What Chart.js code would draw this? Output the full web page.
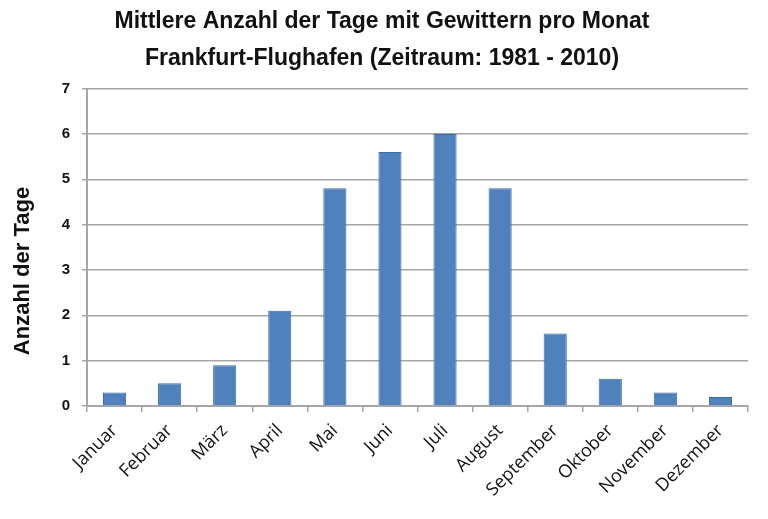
<!DOCTYPE html>
<html>
<head>
<meta charset="utf-8">
<script src="https://cdn.jsdelivr.net/npm/chart.js@4/dist/chart.umd.min.js"></script>
<style>
  html, body { margin: 0; padding: 0; background: #fff; }
  #wrap { width: 768px; height: 519px; }
</style>
</head>
<body>
<div id="wrap"><canvas id="myChart" width="768" height="519"></canvas></div>
<script>
const months = ['Januar', 'Februar', 'März', 'April', 'Mai', 'Juni', 'Juli',
                'August', 'September', 'Oktober', 'November', 'Dezember'];
const stormDays = [0.3, 0.5, 0.9, 2.1, 4.8, 5.6, 6.0, 4.8, 1.6, 0.6, 0.3, 0.2];
const titleLines = ['Mittlere Anzahl der Tage mit Gewittern pro Monat',
                    'Frankfurt-Flughafen (Zeitraum: 1981 - 2010)'];
const yTitle = 'Anzahl der Tage';

const gridGrey = '#a6a6a6';
const arial = 'Liberation Sans, Arial, sans-serif';

// y-axis title drawn a bit below the chart-area centre, like the original
const yTitlePlugin = {
    id: 'yTitle',
    afterDraw(chart) {
        const c = chart.ctx;
        c.save();
        c.translate(23, 271);
        c.rotate(-Math.PI / 2);
        c.font = 'bold 22px ' + arial;
        c.fillStyle = '#111';
        c.textAlign = 'center';
        c.textBaseline = 'middle';
        c.fillText(yTitle, 0, 0);
        c.restore();
    }
};

const chartSettings = {
    type: 'bar',
    data: {
        labels: months,
        datasets: [{
            data: stormDays,
            backgroundColor: '#4f81bd',
            borderColor: '#3d6ca6',
            borderWidth: 1,
            barPercentage: 0.42,
            categoryPercentage: 1.0
        }]
    },
    options: {
        responsive: false,
        animation: false,
        layout: { padding: { left: 16, right: 20, top: 0, bottom: 0 } },
        plugins: {
            legend: { display: false },
            tooltip: { enabled: false },
            title: {
                display: true,
                text: titleLines,
                color: '#111',
                font: { family: arial, size: 23, weight: 'bold', lineHeight: 1.6 },
                padding: { top: 3, bottom: 12 }
            }
        },
        scales: {
            y: {
                min: 0,
                max: 7,
                ticks: {
                    stepSize: 1,
                    color: '#111',
                    padding: 12,
                    font: { family: arial, size: 15, weight: 'bold' }
                },
                grid: { color: gridGrey, lineWidth: 1.5, tickLength: 5 },
                border: { color: gridGrey, width: 2 },
                afterFit: (scale) => { scale.width = 71; }
            },
            x: {
                ticks: {
                    color: '#111',
                    minRotation: 45,
                    maxRotation: 45,
                    padding: 8,
                    font: { family: 'Open Sans, sans-serif', size: 18 }
                },
                grid: { drawOnChartArea: false, color: gridGrey, lineWidth: 1.5, tickLength: 6 },
                border: { color: gridGrey, width: 2 },
                afterFit: (scale) => { scale.height = 113; }
            }
        }
    },
    plugins: [yTitlePlugin]
};

window.onload = function () {
    const ctx = document.getElementById('myChart').getContext('2d');
    new Chart(ctx, chartSettings);
};
</script>
</body>
</html>
